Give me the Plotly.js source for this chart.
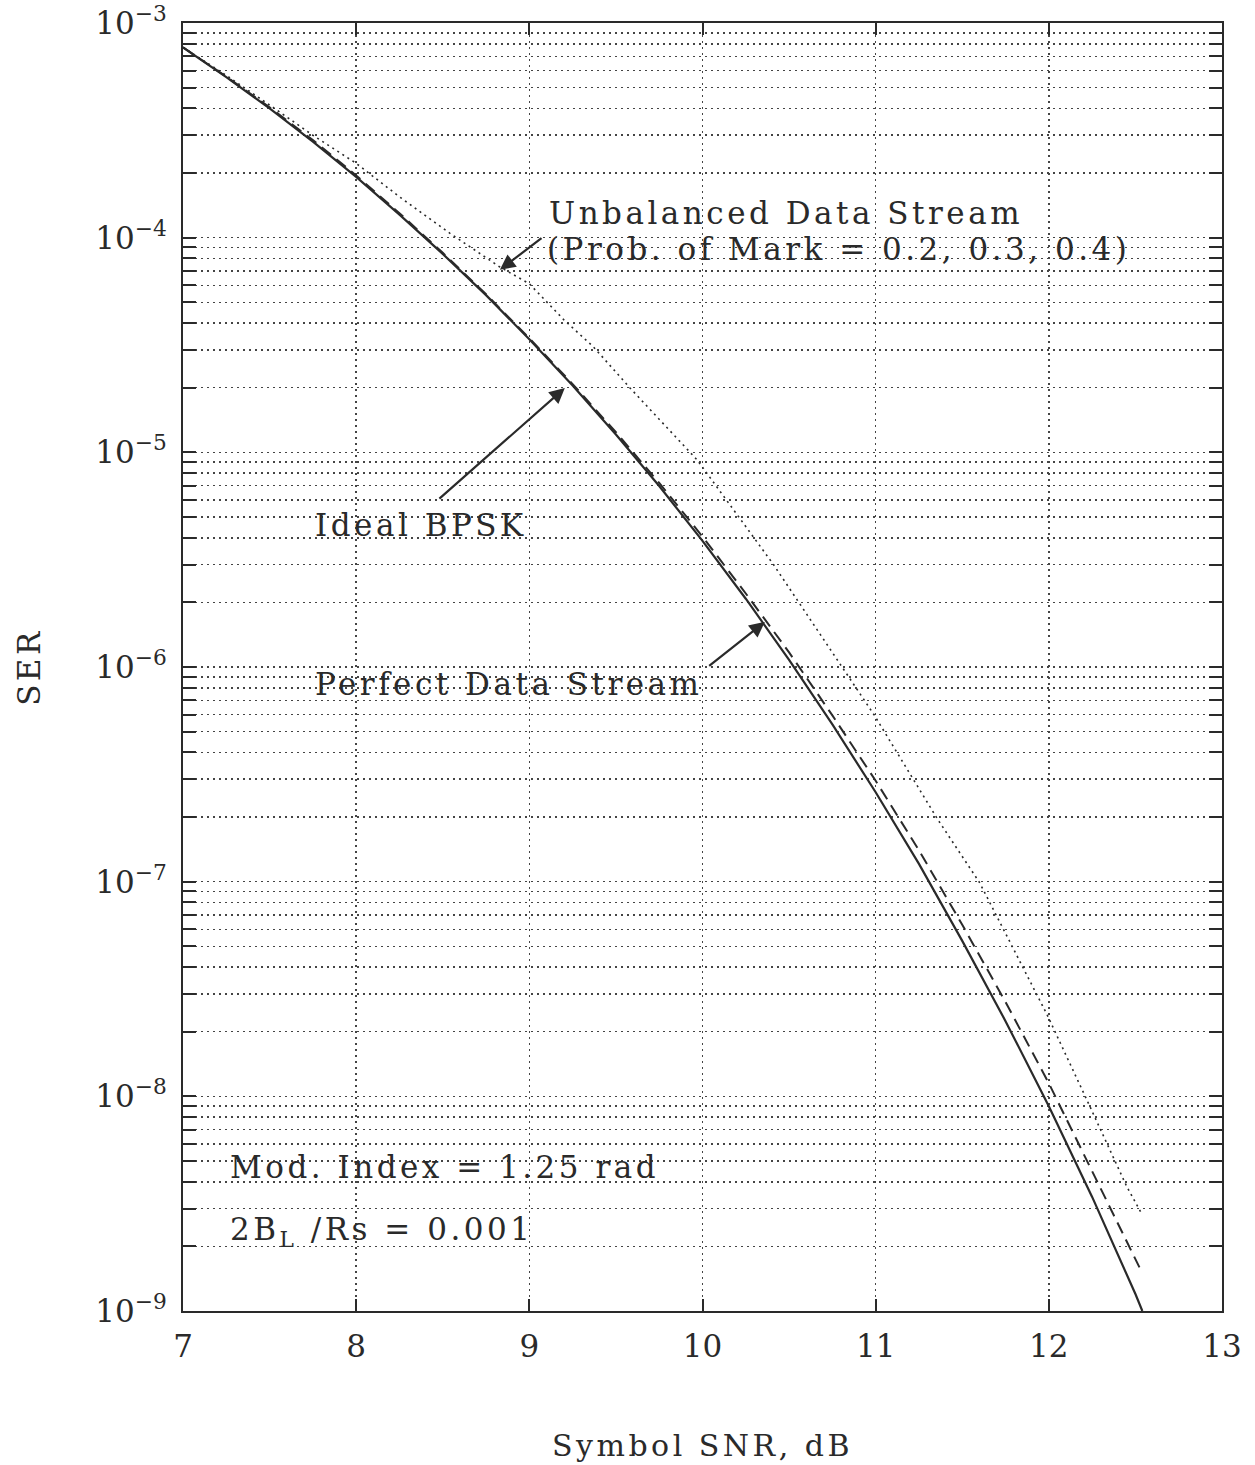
<!DOCTYPE html>
<html>
<head>
<meta charset="utf-8">
<script src="https://cdn.plot.ly/plotly-3.0.1.min.js"></script>
<style>
  html, body { margin: 0; padding: 0; background: #ffffff; }
  #chart { width: 1255px; height: 1465px; }
  #chart .annotation-text { letter-spacing: 3.5px; }
  #chart .g-xtitle text, #chart .g-ytitle text { letter-spacing: 3.5px; }
</style>
</head>
<body>
<div id="chart"></div>
<script>
// ---- Data ----
// Ideal BPSK (solid)
const snrIdeal = [7, 7.25, 7.5, 7.75, 8, 8.25, 8.5, 8.75, 9, 9.25, 9.5, 9.75, 10, 10.25, 10.5, 10.75, 11, 11.25, 11.5, 11.75, 12, 12.25, 12.5, 12.54];
const serIdeal = [7.7e-4, 5.6e-4, 4.0e-4, 2.8e-4, 1.92e-4, 1.28e-4, 8.4e-5, 5.4e-5, 3.36e-5, 2.05e-5, 1.21e-5, 6.97e-6, 3.87e-6, 2.08e-6, 1.08e-6, 5.4e-7, 2.61e-7, 1.21e-7, 5.3e-8, 2.24e-8, 9.0e-9, 3.4e-9, 1.2e-9, 1.0e-9];

// Perfect Data Stream (dashed)
const snrPerfect = [7, 7.25, 7.5, 7.75, 8, 8.25, 8.5, 8.75, 9, 9.25, 9.5, 9.75, 10, 10.25, 10.5, 10.75, 11, 11.25, 11.5, 11.75, 12, 12.25, 12.54];
const serPerfect = [7.7e-4, 5.62e-4, 4.05e-4, 2.85e-4, 1.95e-4, 1.3e-4, 8.5e-5, 5.45e-5, 3.4e-5, 2.08e-5, 1.24e-5, 7.2e-6, 4.05e-6, 2.2e-6, 1.17e-6, 5.95e-7, 2.95e-7, 1.4e-7, 6.3e-8, 2.75e-8, 1.15e-8, 4.5e-9, 1.5e-9];

// Unbalanced Data Stream (dotted)
const snrUnbal = [7, 7.25, 7.5, 7.75, 8, 8.25, 8.54, 8.83, 9.0, 9.2, 9.37, 9.58, 9.97, 10.41, 10.99, 11.36, 11.6, 11.99, 12.21, 12.45, 12.54];
const serUnbal = [7.7e-4, 5.7e-4, 4.15e-4, 3.0e-4, 2.22e-4, 1.55e-4, 1.05e-4, 7.3e-5, 6.1e-5, 4.14e-5, 3.1e-5, 2.0e-5, 9.2e-6, 3.0e-6, 6.0e-7, 1.94e-7, 9.9e-8, 2.4e-8, 1.0e-8, 3.8e-9, 2.8e-9];

// Tick labels
const xTickVals = [7, 8, 9, 10, 11, 12, 13];
const xTickText = ['7', '8', '9', '10', '11', '12', '13'];
const yDecadeExps = [-9, -8, -7, -6, -5, -4, -3];
const yDecadeText = ['10<sup>−9</sup>', '10<sup>−8</sup>', '10<sup>−7</sup>', '10<sup>−6</sup>', '10<sup>−5</sup>', '10<sup>−4</sup>', '10<sup>−3</sup>'];
const yMinorMults = [2, 3, 4, 5, 6, 7, 8, 9];

// ---- Tick positions: decades (labelled) and minors (unlabelled, on an overlaid axis) ----
const yTickVals = yDecadeExps.map(e => Math.pow(10, e));
const yMinorVals = [];
yDecadeExps.forEach(e => {
  if (e < -3) yMinorMults.forEach(m => yMinorVals.push(m * Math.pow(10, e)));
});

const ink = '#2a2a2a';
const FONT = 'DejaVu Serif, Liberation Serif, serif';

const traces = [
  { x: snrIdeal, y: serIdeal, type: 'scatter', mode: 'lines', name: 'Ideal BPSK',
    line: { color: ink, width: 2.2 } },
  { x: snrPerfect, y: serPerfect, type: 'scatter', mode: 'lines', name: 'Perfect Data Stream',
    line: { color: ink, width: 2, dash: '12px,7px' } },
  { x: snrUnbal, y: serUnbal, type: 'scatter', mode: 'lines', name: 'Unbalanced Data Stream',
    yaxis: 'y2',
    line: { color: ink, width: 1.6, dash: '2px,4px' } }
];

const textFont = { family: FONT, size: 31, color: ink };

function label(text, x, ylog) {
  return { text: text, x: x, y: ylog, xref: 'x', yref: 'y', showarrow: false,
           xanchor: 'left', yanchor: 'middle', align: 'left', font: textFont };
}
function arrow(xh, yh, xt, yt) {
  return { text: '', x: xh, y: yh, ax: xt, ay: yt, xref: 'x', yref: 'y', axref: 'x', ayref: 'y',
           showarrow: true, arrowhead: 2, arrowsize: 1.4, arrowwidth: 2.2, arrowcolor: ink };
}

const gridStyle = { showgrid: true, gridcolor: '#444', gridwidth: 1.5, griddash: '2px,4px' };

const layout = {
  width: 1255, height: 1465,
  margin: { l: 183, r: 33, t: 23, b: 154 },
  paper_bgcolor: '#ffffff', plot_bgcolor: '#ffffff',
  showlegend: false,
  font: { family: FONT, color: ink },
  xaxis: Object.assign({
    type: 'linear', range: [7, 13],
    tickmode: 'array', tickvals: xTickVals, ticktext: xTickText,
    ticks: 'inside', ticklen: 12, tickwidth: 2, tickcolor: ink,
    showline: true, linewidth: 2, linecolor: ink, mirror: 'ticks',
    zeroline: false,
    ticklabelstandoff: 7,
    tickfont: { family: FONT, size: 31, color: ink },
    title: { text: 'Symbol SNR, dB', font: { family: FONT, size: 30, color: ink }, standoff: 72 },
    automargin: false
  }, gridStyle),
  yaxis: Object.assign({
    type: 'log', range: [-9, -3],
    tickmode: 'array', tickvals: yTickVals, ticktext: yDecadeText,
    ticks: 'inside', ticklen: 13, tickwidth: 2, tickcolor: ink,
    showline: true, linewidth: 2, linecolor: ink, mirror: 'ticks',
    zeroline: false,
    ticklabelstandoff: 8,
    tickfont: { family: FONT, size: 31, color: ink },
    title: { text: 'SER', font: { family: FONT, size: 31, color: ink }, standoff: 46 },
    automargin: false
  }, gridStyle),
  yaxis2: Object.assign({
    type: 'log', range: [-9, -3], overlaying: 'y', side: 'left', anchor: 'x',
    tickmode: 'array', tickvals: yMinorVals,
    ticks: 'inside', ticklen: 13, tickwidth: 2, tickcolor: ink,
    showticklabels: false, showline: false, mirror: 'ticks',
    zeroline: false, automargin: false
  }, gridStyle),
  annotations: [
    label('Unbalanced Data Stream', 9.10, -3.885),
    label('(Prob. of Mark = 0.2, 0.3, 0.4)', 9.09, -4.053),
    arrow(8.83, -4.150, 9.079, -3.997),
    label('Ideal BPSK', 7.75, -5.338),
    arrow(9.205, -4.700, 8.472, -5.222),
    label('Perfect Data Stream', 7.75, -6.079),
    arrow(10.36, -5.790, 10.03, -6.0),
    label('Mod. Index = 1.25 rad', 7.26, -8.328),
    label('2B<sub>L</sub> /Rs = 0.001', 7.26, -8.631)
  ]
};

Plotly.newPlot('chart', traces, layout, { staticPlot: true, displayModeBar: false });
</script>
</body>
</html>
